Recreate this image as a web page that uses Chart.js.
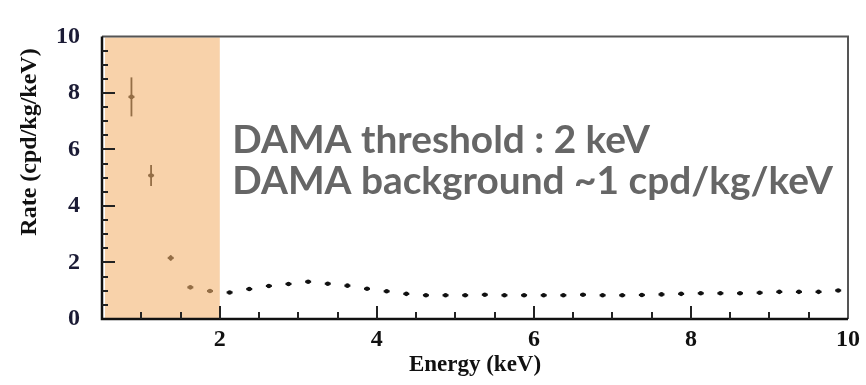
<!DOCTYPE html>
<html>
<head>
<meta charset="utf-8">
<script src="https://cdn.jsdelivr.net/npm/chart.js@4.4.1/dist/chart.umd.min.js"></script>
<style>
  html, body { margin: 0; padding: 0; background: #fff; }
  #wrap { width: 866px; height: 385px; }
</style>
</head>
<body>
<div id="wrap"><canvas id="rateChart"></canvas></div>
<script>
// bin centres (keV) and measured rate (cpd/kg/keV)
const energy = [0.875, 1.125, 1.375, 1.625, 1.875, 2.125, 2.375, 2.625, 2.875, 3.125,
  3.375, 3.625, 3.875, 4.125, 4.375, 4.625, 4.875, 5.125, 5.375, 5.625,
  5.875, 6.125, 6.375, 6.625, 6.875, 7.125, 7.375, 7.625, 7.875, 8.125,
  8.375, 8.625, 8.875, 9.125, 9.375, 9.625, 9.875];
const rate = [7.86, 5.08, 2.16, 1.12, 0.99, 0.94, 1.06, 1.17, 1.24, 1.32,
  1.25, 1.18, 1.07, 0.98, 0.89, 0.84, 0.84, 0.84, 0.86, 0.84,
  0.84, 0.84, 0.84, 0.86, 0.84, 0.84, 0.85, 0.87, 0.89, 0.91,
  0.91, 0.91, 0.93, 0.96, 0.96, 0.96, 1.01];
const rateErr = [0.69, 0.37, 0.10, 0.04, 0.03, 0.03, 0.03, 0.03, 0.03, 0.03,
  0.03, 0.03, 0.03, 0.03, 0.03, 0.03, 0.03, 0.03, 0.03, 0.03,
  0.03, 0.03, 0.03, 0.03, 0.03, 0.03, 0.03, 0.03, 0.03, 0.03,
  0.03, 0.03, 0.03, 0.03, 0.03, 0.03, 0.03];
const xTickLabels = [2, 4, 6, 8, 10];
const thresholdKeV = 2;
const noteLines = ["DAMA threshold : 2 keV", "DAMA background ~1 cpd/kg/keV"];
const yTitle = "Rate (cpd/kg/keV)";

const serif = "'Liberation Serif', 'Times New Roman', serif";

// error bars on each point (small horizontal bar too)
const errorBars = {
  id: "errorBars",
  afterDatasetsDraw(chart) {
    const { ctx, scales: { x, y } } = chart;
    ctx.save();
    ctx.strokeStyle = "#111";
    energy.forEach((e, i) => {
      const px = x.getPixelForValue(e);
      const py = y.getPixelForValue(rate[i]);
      const top = y.getPixelForValue(rate[i] + rateErr[i]);
      const bot = y.getPixelForValue(rate[i] - rateErr[i]);
      ctx.lineWidth = 1.8;
      ctx.beginPath();
      ctx.moveTo(px, top);
      ctx.lineTo(px, bot);
      ctx.stroke();
      ctx.lineWidth = 2.2;
      ctx.beginPath();
      ctx.moveTo(px - 3, py);
      ctx.lineTo(px + 3, py);
      ctx.stroke();
    });
    ctx.restore();
  }
};

// orange band below threshold, frame, inner ticks, y title and the note
const decorations = {
  id: "decorations",
  afterDraw(chart) {
    const { ctx, chartArea: a, scales: { x, y } } = chart;
    ctx.save();

    // shaded region
    const x0 = x.getPixelForValue(x.min);
    const x1 = x.getPixelForValue(thresholdKeV);
    ctx.fillStyle = "rgba(243,177,109,0.58)";
    ctx.fillRect(x0 + 3, a.top + 1, x1 - x0 - 3, a.bottom - a.top - 1);

    // frame
    ctx.strokeStyle = "#555";
    ctx.lineWidth = 2;
    ctx.beginPath();
    ctx.moveTo(a.left, a.top);
    ctx.lineTo(a.right, a.top);
    ctx.lineTo(a.right, a.bottom);
    ctx.stroke();
    ctx.strokeStyle = "#111";
    ctx.lineWidth = 2.5;
    ctx.beginPath();
    ctx.moveTo(a.left, a.top);
    ctx.lineTo(a.left, a.bottom);
    ctx.lineTo(a.right, a.bottom);
    ctx.stroke();

    // inner ticks
    ctx.lineWidth = 2;
    ctx.strokeStyle = "#222";
    for (let v = 0.5; v < 10; v += 0.5) {
      const py = Math.round(y.getPixelForValue(v));
      const len = v % 2 === 0 ? 13 : 6;
      ctx.beginPath();
      ctx.moveTo(a.left, py);
      ctx.lineTo(a.left + len, py);
      ctx.stroke();
    }
    for (let v = 1; v < 10; v += 0.5) {
      const px = Math.round(x.getPixelForValue(v));
      const len = v % 2 === 0 ? 13 : 7;
      ctx.beginPath();
      ctx.moveTo(px, a.bottom);
      ctx.lineTo(px, a.bottom - len);
      ctx.stroke();
    }

    // y axis title
    ctx.save();
    ctx.translate(30, 142);
    ctx.rotate(-Math.PI / 2);
    ctx.fillStyle = "#111";
    ctx.textAlign = "center";
    ctx.textBaseline = "middle";
    ctx.font = "bold 24px " + serif;
    ctx.fillText(yTitle, 0, 0);
    ctx.restore();

    // note text, sized to the second line's width
    ctx.fillStyle = "#666";
    ctx.textAlign = "left";
    ctx.textBaseline = "alphabetic";
    ctx.font = "bold 100px Lato, 'Noto Sans', sans-serif";
    const w = ctx.measureText(noteLines[1]).width;
    const size = 100 * 600 / w;
    ctx.font = "bold " + size.toFixed(1) + "px Lato, 'Noto Sans', sans-serif";
    const tx = x.getPixelForValue(2.16);
    ctx.fillText(noteLines[0], tx, y.getPixelForValue(5.87));
    ctx.fillText(noteLines[1], tx, y.getPixelForValue(4.43));

    ctx.restore();
  }
};

const ctx = document.getElementById("rateChart").getContext("2d");
const chart = new Chart(ctx, {
  type: "scatter",
  data: {
    datasets: [{
      data: energy.map((e, i) => ({ x: e, y: rate[i] })),
      pointStyle: "circle",
      pointRadius: 2.3,
      pointBackgroundColor: "#111",
      pointBorderWidth: 0,
      showLine: false
    }]
  },
  options: {
    responsive: true,
    maintainAspectRatio: false,
    animation: false,
    events: [],
    layout: { padding: { top: 20, right: 18, left: 0, bottom: 0 } },
    plugins: { legend: { display: false }, tooltip: { enabled: false } },
    scales: {
      x: {
        type: "linear",
        min: 0.5,
        max: 10,
        afterBuildTicks: s => { s.ticks = xTickLabels.map(v => ({ value: v })); },
        afterFit: s => { s.height = 66; },
        grid: { display: false, drawTicks: false },
        border: { display: false },
        ticks: { padding: 6, color: "#111", font: { family: serif, size: 24, weight: "bold" } },
        title: {
          display: true,
          text: "Energy (keV)",
          color: "#111",
          padding: { top: 0, bottom: 6 },
          font: { family: serif, size: 23, weight: "bold" }
        }
      },
      y: {
        min: 0,
        max: 10,
        afterFit: s => { s.width = 102; },
        grid: { display: false, drawTicks: false },
        border: { display: false },
        ticks: { stepSize: 2, padding: 22, color: "#1b1b35", font: { family: serif, size: 24, weight: "bold" } }
      }
    }
  },
  plugins: [errorBars, decorations]
});
</script>
</body>
</html>
